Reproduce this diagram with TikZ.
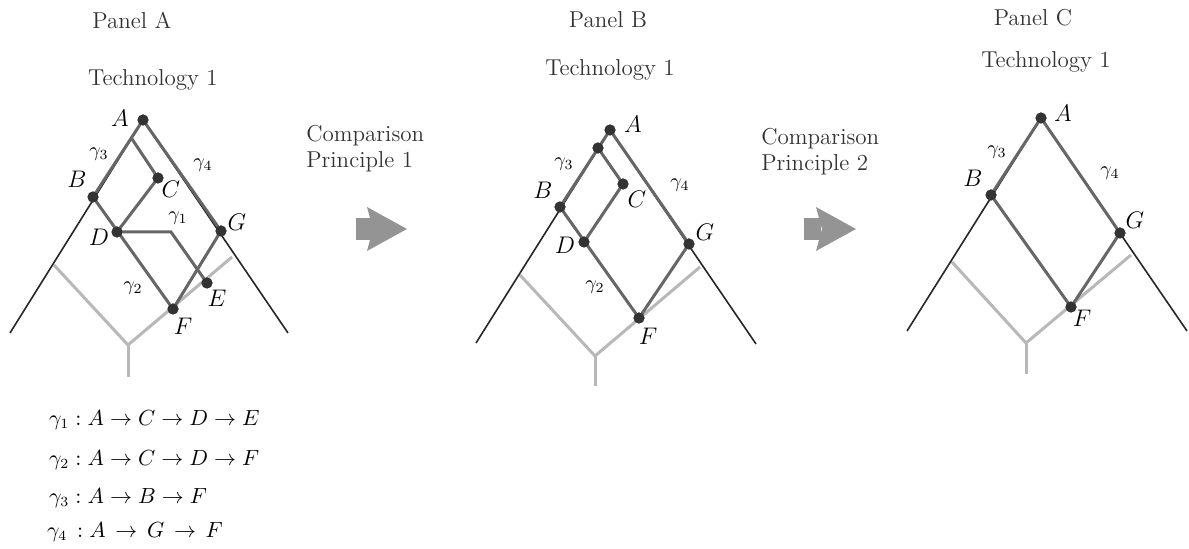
\documentclass[tikz,border=0pt]{standalone}
\usepackage{amsmath}
\begin{document}
\begin{tikzpicture}[x=0.5pt,y=-0.5pt,
  blk/.style={draw=black!85,line width=0.8pt},
  path/.style={draw=black!60,line width=1.5pt},
  light/.style={draw=black!28,line width=1.5pt},
  dot/.style={circle,fill=black!80,inner sep=0pt,minimum size=5.5pt},
  lab/.style={font=\fontsize{11.5}{13}\selectfont},
  eq/.style={font=\fontsize{10.6}{13}\selectfont},
  glab/.style={font=\fontsize{10}{12}\selectfont},
  txt/.style={font=\fontsize{11.5}{14}\selectfont,text=black!80},
  bigarrow/.style={fill=black!42,draw=none}]
\useasboundingbox (0,0) rectangle (1189,549);

% ---------------- Panel A ----------------
\node[txt] (pa) at (132,20) {Panel A};
\node[txt] (ta) at (153,80) {Technology 1};
\coordinate (aL) at (10,333);
\coordinate (aR) at (288,333);
\coordinate (aY) at (128,345);
\coordinate (aYl) at (54,265);
\coordinate (aYr) at (232,257);
\coordinate (aYb) at (128,377);
\coordinate (aP) at (132,139);
\coordinate (aQ) at (171,232);
\draw[light] (aYl) -- (aY) -- (aYr);
\draw[light] (aY) -- (aYb);
\node[dot] (aA) at (143,120) {};
\node[dot] (aB) at (93,197) {};
\node[dot] (aC) at (158,178) {};
\node[dot] (aD) at (117,232) {};
\node[dot] (aE) at (207,283) {};
\node[dot] (aF) at (173,309) {};
\node[dot] (aG) at (221,231) {};
\draw[blk] (aA.center) -- (aL);
\draw[blk] (aA.center) -- (aR);
\draw[path] (aA.center) -- (aB.center);
\draw[path] (aA.center) -- (aG.center);
\draw[path] (aP) -- (aC.center) -- (aD.center) -- (aQ) -- (aE.center);
\draw[path] (aB.center) -- (aF.center);
\draw[path] (aG.center) -- (aF.center);
\foreach \n in {aA,aB,aC,aD,aE,aF,aG} \node[dot] at (\n) {};
\node[lab] (laA) at (120,118) {$A$};
\node[lab] (laB) at (77,179) {$B$};
\node[lab] (laC) at (171,189) {$C$};
\node[lab] (laD) at (99,237) {$D$};
\node[lab] (laE) at (217,298) {$E$};
\node[lab] (laF) at (183,326) {$F$};
\node[lab] (laG) at (237,222) {$G$};
\node[glab] (ga3) at (99,154) {$\gamma_3$};
\node[glab] (ga4) at (203,165) {$\gamma_4$};
\node[glab] (ga1) at (178,218) {$\gamma_1$};
\node[glab] (ga2) at (133,288) {$\gamma_2$};

% equations
\node[eq,anchor=west] (e1) at (42,420) {$\gamma_1: A\rightarrow C\rightarrow D\rightarrow E$};
\node[eq,anchor=west] (e2) at (42,460) {$\gamma_2: A\rightarrow C\rightarrow D\rightarrow F$};
\node[eq,anchor=west] (e3) at (42,498) {$\gamma_3: A\rightarrow B\rightarrow F$};
\node[eq,anchor=west] (e4) at (40,532) {$\gamma_4\,: A\,\rightarrow\,G\,\rightarrow\,F$};

% ---------------- arrow 1 ----------------
\node[txt,anchor=north west,align=left,inner sep=0pt] (cp1) at (306,125) {Comparison\\[-1pt]Principle 1};
\fill[bigarrow] (356,218) rectangle (373,240);
\fill[bigarrow] (367,207) -- (407,229) -- (367,251) -- (373,229) -- cycle;

% ---------------- Panel B ----------------
\node[txt] (pb) at (608,20) {Panel B};
\node[txt] (tb) at (610,70) {Technology 1};
\coordinate (bL) at (476,343);
\coordinate (bR) at (756,344);
\coordinate (bY) at (595,356);
\coordinate (bYl) at (520,275);
\coordinate (bYr) at (700,267);
\coordinate (bYb) at (595,386);
\draw[light] (bYl) -- (bY) -- (bYr);
\draw[light] (bY) -- (bYb);
\node[dot] (bA) at (610,130) {};
\node[dot] (bP) at (598,148) {};
\node[dot] (bB) at (560,207) {};
\node[dot] (bC) at (623,184) {};
\node[dot] (bD) at (584,242) {};
\node[dot] (bF) at (639,318) {};
\node[dot] (bG) at (689,244) {};
\draw[blk] (bA.center) -- (bL);
\draw[blk] (bA.center) -- (bR);
\draw[path] (bA.center) -- (bB.center);
\draw[path] (bA.center) -- (bG.center);
\draw[path] (bP.center) -- (bC.center) -- (bD.center);
\draw[path] (bB.center) -- (bF.center);
\draw[path] (bG.center) -- (bF.center);
\foreach \n in {bA,bP,bB,bC,bD,bF,bG} \node[dot] at (\n) {};
\node[lab] (lbA) at (633,124) {$A$};
\node[lab] (lbB) at (543,190) {$B$};
\node[lab] (lbC) at (637,199) {$C$};
\node[lab] (lbD) at (565,245) {$D$};
\node[lab] (lbF) at (648,336) {$F$};
\node[lab] (lbG) at (705,232) {$G$};
\node[glab] (gb3) at (564,164) {$\gamma_3$};
\node[glab] (gb4) at (680,185) {$\gamma_4$};
\node[glab] (gb2) at (595,287) {$\gamma_2$};

% ---------------- arrow 2 ----------------
\node[txt,anchor=north west,align=left,inner sep=0pt] (cp2) at (761,128) {Comparison\\[-1pt]Principle 2};
\fill[bigarrow] (804,218) rectangle (821,240);
\fill[bigarrow] (816,207) -- (856,229) -- (816,251) -- (822,229) -- cycle;

% ---------------- Panel C ----------------
\node[txt] (pc) at (1033,18) {Panel C};
\node[txt] (tc) at (1046,62) {Technology 1};
\coordinate (cL) at (907,331);
\coordinate (cR) at (1187,331);
\coordinate (cY) at (1026,343);
\coordinate (cYl) at (952,262);
\coordinate (cYr) at (1131,255);
\coordinate (cYb) at (1026,374);
\draw[light] (cYl) -- (cY) -- (cYr);
\draw[light] (cY) -- (cYb);
\node[dot] (cA) at (1041,118) {};
\node[dot] (cB) at (991,195) {};
\node[dot] (cF) at (1071,307) {};
\node[dot] (cG) at (1120,233) {};
\draw[blk] (cA.center) -- (cL);
\draw[blk] (cA.center) -- (cR);
\draw[path] (cA.center) -- (cB.center);
\draw[path] (cA.center) -- (cG.center);
\draw[path] (cB.center) -- (cF.center);
\draw[path] (cG.center) -- (cF.center);
\foreach \n in {cA,cB,cF,cG} \node[dot] at (\n) {};
\node[lab] (lcA) at (1063,113) {$A$};
\node[lab] (lcB) at (973,178) {$B$};
\node[lab] (lcF) at (1082,318) {$F$};
\node[lab] (lcG) at (1135,220) {$G$};
\node[glab] (gc3) at (997,152) {$\gamma_3$};
\node[glab] (gc4) at (1110,173) {$\gamma_4$};
\end{tikzpicture}
\end{document}
